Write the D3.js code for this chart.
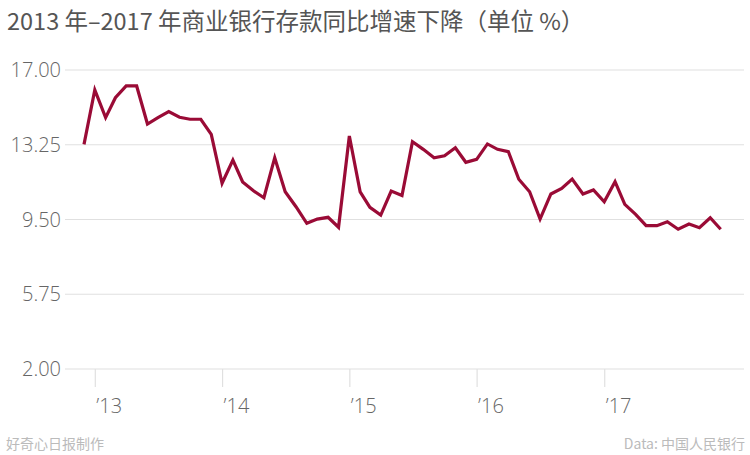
<!DOCTYPE html>
<html>
<head>
<meta charset="utf-8">
<script src="https://cdn.jsdelivr.net/npm/d3@7"></script>
<style>
  html, body { margin: 0; padding: 0; background: #fff; }
  svg { display: block; }
</style>
</head>
<body>
<svg id="chart" width="750" height="455"></svg>
<script>
// ---- data ----
const startMonth = "2012-12";
const depositGrowth = [
  13.27, 16.00, 14.61, 15.61, 16.20, 16.20, 14.29, 14.61, 14.91, 14.63, 14.53, 14.53,
  13.77, 11.32, 12.48, 11.38, 10.94, 10.59, 12.60, 10.89, 10.14, 9.31, 9.52, 9.61,
  9.11, 13.69, 10.89, 10.11, 9.72, 10.93, 10.70, 13.40, 13.02, 12.60, 12.70, 13.10,
  12.37, 12.52, 13.29, 13.02, 12.90, 11.52, 10.89, 9.52, 10.78, 11.06, 11.53, 10.78,
  10.98, 10.39, 11.40, 10.26, 9.76, 9.19, 9.19, 9.39, 9.01, 9.27, 9.09, 9.59, 9.01
];
const yTicks = [2.00, 5.75, 9.50, 13.25, 17.00];
const xTickYears = [2013, 2014, 2015, 2016, 2017];
const xTickLabels = ["\u201913", "\u201914", "\u201915", "\u201916", "\u201917"];
const titleText = "2013 年\u20132017 年商业银行存款同比增速下降（单位 %）";
const creditText = "好奇心日报制作";
const sourceText = "Data: 中国人民银行";

// ---- build ----
const parse = d3.timeParse("%Y-%m");
const t0 = parse(startMonth);
const data = depositGrowth.map((v, i) => ({ date: d3.timeMonth.offset(t0, i), value: v }));

const svg = d3.select("#chart");
const x = d3.scaleTime()
  .domain([data[0].date, data[data.length - 1].date])
  .range([84, 720.7]);
const y = d3.scaleLinear().domain([2, 17]).range([369, 70]);

const gridLeft = 65, gridRight = 744;

// title
svg.append("text")
  .attr("x", 7).attr("y", 30)
  .attr("font-family", "'Noto Sans CJK SC', 'Noto Sans', sans-serif")
  .attr("font-size", 23.5)
  .attr("fill", "#555")
  .text(titleText);

// y grid + labels
const yAxis = svg.append("g").attr("class", "y-axis");
yAxis.selectAll("line").data(yTicks).join("line")
  .attr("x1", gridLeft).attr("x2", gridRight)
  .attr("y1", d => y(d)).attr("y2", d => y(d))
  .attr("stroke", "#e0e0e0").attr("stroke-width", 1.2);
yAxis.selectAll("text").data(yTicks).join("text")
  .attr("x", 61).attr("y", d => y(d))
  .attr("dy", "0.35em")
  .attr("text-anchor", "end")
  .attr("font-family", "'Open Sans', sans-serif")
  .attr("font-weight", 300)
  .attr("font-size", 20)
  .attr("fill", "#666")
  .text(d => d3.format(".2f")(d));

// x ticks
const xAxisG = svg.append("g")
  .attr("transform", `translate(0,${y(2)})`)
  .call(d3.axisBottom(x)
    .tickValues(xTickYears.map(yr => new Date(yr, 0, 1)))
    .tickSize(18)
    .tickFormat((d, i) => xTickLabels[i]));
xAxisG.select(".domain").remove();
xAxisG.selectAll(".tick line").attr("stroke", "#e0e0e0").attr("stroke-width", 1.2);
xAxisG.selectAll(".tick text")
  .attr("text-anchor", "start")
  .attr("x", 1)
  .attr("y", 44)
  .attr("dy", 0)
  .attr("font-family", "'Open Sans', sans-serif")
  .attr("font-weight", 300)
  .attr("font-size", 20)
  .attr("fill", "#666");

// line
const line = d3.line().x(d => x(d.date)).y(d => y(d.value)).curve(d3.curveLinear);
svg.append("path")
  .datum(data)
  .attr("d", line)
  .attr("fill", "none")
  .attr("stroke", "#9a0b36")
  .attr("stroke-width", 3.2)
  .attr("stroke-linejoin", "miter")
  .attr("stroke-linecap", "butt");

// footer
svg.append("text")
  .attr("x", 6).attr("y", 449)
  .attr("font-family", "'Noto Sans CJK SC', sans-serif")
  .attr("font-size", 14)
  .attr("fill", "#bbb")
  .text(creditText);
svg.append("text")
  .attr("x", 745).attr("y", 449)
  .attr("text-anchor", "end")
  .attr("font-family", "'Noto Sans CJK SC', sans-serif")
  .attr("font-size", 14)
  .attr("fill", "#bbb")
  .text(sourceText);
</script>
</body>
</html>
